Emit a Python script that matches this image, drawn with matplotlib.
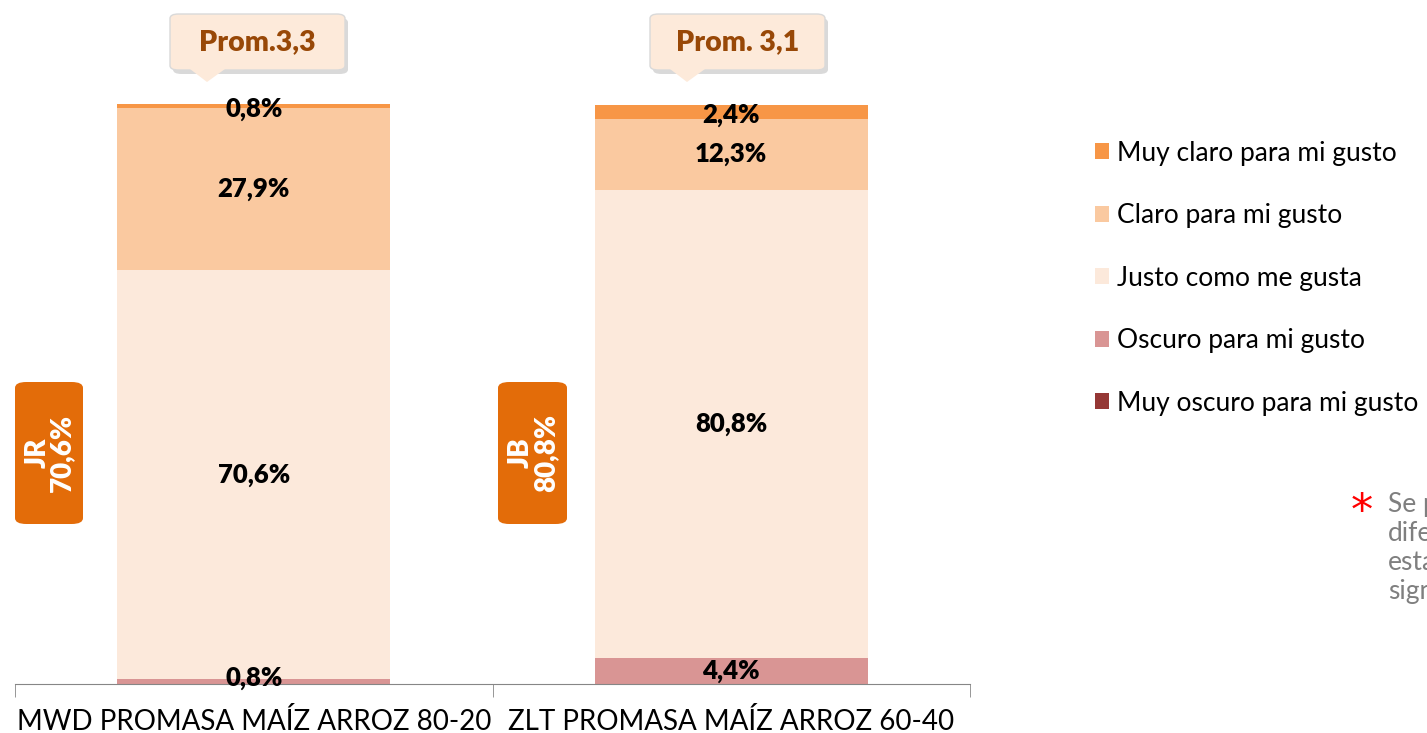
import matplotlib
matplotlib.use("Agg")
import matplotlib.pyplot as plt
from matplotlib.patches import FancyBboxPatch, Polygon
import numpy as np

categories = ["MWD PROMASA MAÍZ ARROZ 80-20", "ZLT PROMASA MAÍZ ARROZ 60-40"]
series_names = ["Muy oscuro para mi gusto", "Oscuro para mi gusto", "Justo como me gusta",
                "Claro para mi gusto", "Muy claro para mi gusto"]
muy_oscuro = [0.0, 0.0]
oscuro = [0.8, 4.4]
justo = [70.6, 80.8]
claro = [27.9, 12.3]
muy_claro = [0.8, 2.4]
promedios = ["Prom.3,3", "Prom. 3,1"]
jr_labels = ["JR\n70,6%", "JB\n80,8%"]

colors = ["#953735", "#D99594", "#FCE9DB", "#FAC9A0", "#F79646"]
font = "Lato"

fig = plt.figure(figsize=(14.27, 7.33), dpi=100)
ax = fig.add_axes([15/1427, 49/733, 955/1427, 580/733])
x = np.arange(len(categories))
values = [muy_oscuro, oscuro, justo, claro, muy_claro]
bottom = np.zeros(len(categories))
handles = []
for name, vals, col in zip(series_names, values, colors):
    vals = np.array(vals)
    b = ax.bar(x, vals, 0.572, bottom=bottom, color=col, label=name, zorder=2)
    handles.append(b)
    for xi, v, bt in zip(x, vals, bottom):
        if v > 0:
            yc = bt + v / 2
            if v < 3:
                yc = bt + v / 2 + (0.6 if bt < 1 else -0.6)
            ax.text(xi, yc, f"{v:.1f}%".replace(".", ","), ha="center", va="center",
                    fontsize=18.5, fontweight="heavy", color="black", family=font, zorder=5)
    bottom = bottom + vals

ax.set_xlim(-0.5, 1.5)
ax.set_ylim(0, 100)
ax.set_yticks([])
for s in ["top", "right", "left"]:
    ax.spines[s].set_visible(False)
ax.spines["bottom"].set_color("#868686")
ax.set_xticks(x)
ax.set_xticklabels(categories, fontsize=20, family=font, color="#000000")
ax.tick_params(axis="x", which="major", length=0, pad=17)
ax.set_xticks([-0.5, 0.5, 1.5], minor=True)
ax.tick_params(axis="x", which="minor", length=9, color="#868686")

def px(xp, yp):
    return (xp / 1427, 1 - yp / 733)

callouts = [(170, 345, 215), (650, 825, 695)]
for (x0, x1, tipx), txt in zip(callouts, promedios):
    y0, y1 = 14, 70
    sh = FancyBboxPatch(px(x0 + 3, y1 + 4), (x1 - x0) / 1427, (y1 - y0) / 733,
                        boxstyle="round,pad=0,rounding_size=0.006", transform=fig.transFigure,
                        facecolor="#D0D0D0", edgecolor="none", alpha=0.8, zorder=9)
    fig.patches.append(sh)
    bx = FancyBboxPatch(px(x0, y1), (x1 - x0) / 1427, (y1 - y0) / 733,
                        boxstyle="round,pad=0,rounding_size=0.006", transform=fig.transFigure,
                        facecolor="#FDEADA", edgecolor="#D9D9D9", linewidth=1, zorder=10)
    fig.patches.append(bx)
    tri = Polygon([px(tipx - 25, y1 - 1), px(tipx + 10, y1 - 1), px(tipx - 8, y1 + 12)],
                  closed=True, transform=fig.transFigure, facecolor="#FDEADA",
                  edgecolor="none", zorder=11)
    fig.patches.append(tri)
    fig.text(*px((x0 + x1) / 2, (y0 + y1) / 2), txt, ha="center", va="center",
             fontsize=20.5, fontweight="heavy", color="#984807", family=font, zorder=12)

for (x0, x1), txt in zip([(15, 83), (498, 567)], jr_labels):
    y0, y1 = 382, 524
    bx = FancyBboxPatch(px(x0, y1), (x1 - x0) / 1427, (y1 - y0) / 733,
                        boxstyle="round,pad=0,rounding_size=0.008", transform=fig.transFigure,
                        facecolor="#E36C09", edgecolor="none", zorder=10)
    fig.patches.append(bx)
    fig.text(*px((x0 + x1) / 2 + 1, (y0 + y1) / 2), txt, ha="center", va="center",
             rotation=90, fontsize=20, fontweight="heavy", color="white", family=font,
             linespacing=0.95, zorder=12)

leg = fig.legend(handles[::-1], series_names[::-1], loc="upper left",
                 bbox_to_anchor=(1071 / 1427, 1 - 117 / 733), frameon=False,
                 prop={"family": font, "size": 19}, labelspacing=1.42,
                 handlelength=0.55, handleheight=0.55, handletextpad=0.3)

fig.text(*px(1362, 512), "*", color="#FF0000", fontsize=32, ha="center", va="center",
         family="DejaVu Sans")
fig.text(*px(1388, 492), "Se presentan\ndiferencias\nestadísticamente\nsignificativas",
         color="#7F7F7F", fontsize=19, ha="left", va="top", family=font, linespacing=1.2)

fig.savefig("out.png", dpi=100)
